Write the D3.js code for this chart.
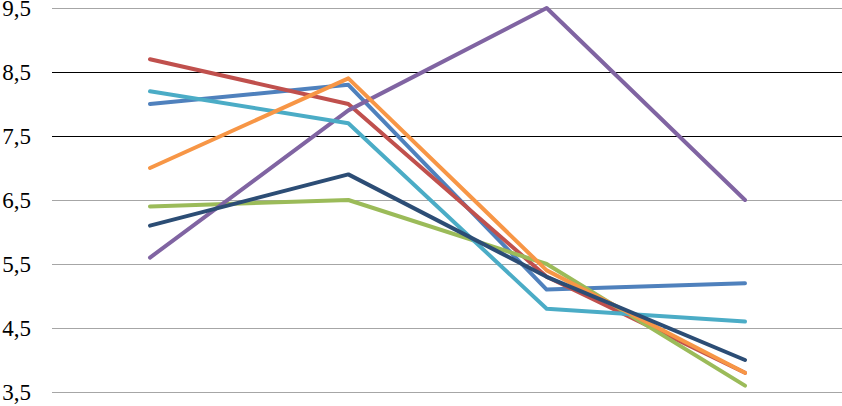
<!DOCTYPE html>
<html><head><meta charset="utf-8">
<script src="https://cdn.jsdelivr.net/npm/d3@7"></script>
<style>body{margin:0;background:#fff}svg{display:block}
.tick-label{font-family:"Liberation Serif","Times New Roman","DejaVu Serif",serif;font-size:23px;fill:#000}</style>
</head><body><svg id="c" width="842" height="406"></svg>
<script>
const categories = ["1", "2", "3", "4"];
const yTicks = [3.5, 4.5, 5.5, 6.5, 7.5, 8.5, 9.5];
const seriesNames = ["S1", "S2", "S3", "S4", "S5", "S6", "S7"];
const seriesColors = ["#4F81BD", "#C0504D", "#9BBB59", "#8064A2", "#4BACC6", "#F79646", "#2C4D75"];
const s1 = [8.0, 8.3, 5.1, 5.2];
const s2 = [8.7, 8.0, 5.3, 3.8];
const s3 = [6.4, 6.5, 5.5, 3.6];
const s4 = [5.6, 7.9, 9.5, 6.5];
const s5 = [8.2, 7.7, 4.8, 4.6];
const s6 = [7.0, 8.4, 5.4, 3.8];
const s7 = [6.1, 6.9, 5.3, 4.0];
const seriesValues = [s1, s2, s3, s4, s5, s6, s7];

const svg = d3.select("#c");
const x = d3.scalePoint().domain(categories).range([150, 745]);
const y = d3.scaleLinear().domain([3.5, 9.5]).range([392, 8]);

const gridColor = v => (v === 8.5 || v === 7.5) ? "#000" : "#a6a6a6";
svg.append("g").selectAll("line").data(yTicks).join("line")
  .attr("x1", 52).attr("x2", 842)
  .attr("y1", d => Math.round(y(d)) + 0.5).attr("y2", d => Math.round(y(d)) + 0.5)
  .attr("stroke", gridColor).attr("stroke-width", 1);

svg.append("g").selectAll("text").data(yTicks).join("text")
  .attr("class", "tick-label")
  .attr("x", 31).attr("y", d => Math.max(y(d) + 8, 16))
  .attr("text-anchor", "end")
  .text(d => d3.format(".1f")(d).replace(".", ","));

const line = d3.line().x((d, i) => x(categories[i])).y(d => y(d));
svg.append("g").selectAll("path").data(seriesValues).join("path")
  .attr("d", d => line(d))
  .attr("fill", "none")
  .attr("stroke", (d, i) => seriesColors[i])
  .attr("stroke-width", 4)
  .attr("stroke-linejoin", "round")
  .attr("stroke-linecap", "round");
</script></body></html>
